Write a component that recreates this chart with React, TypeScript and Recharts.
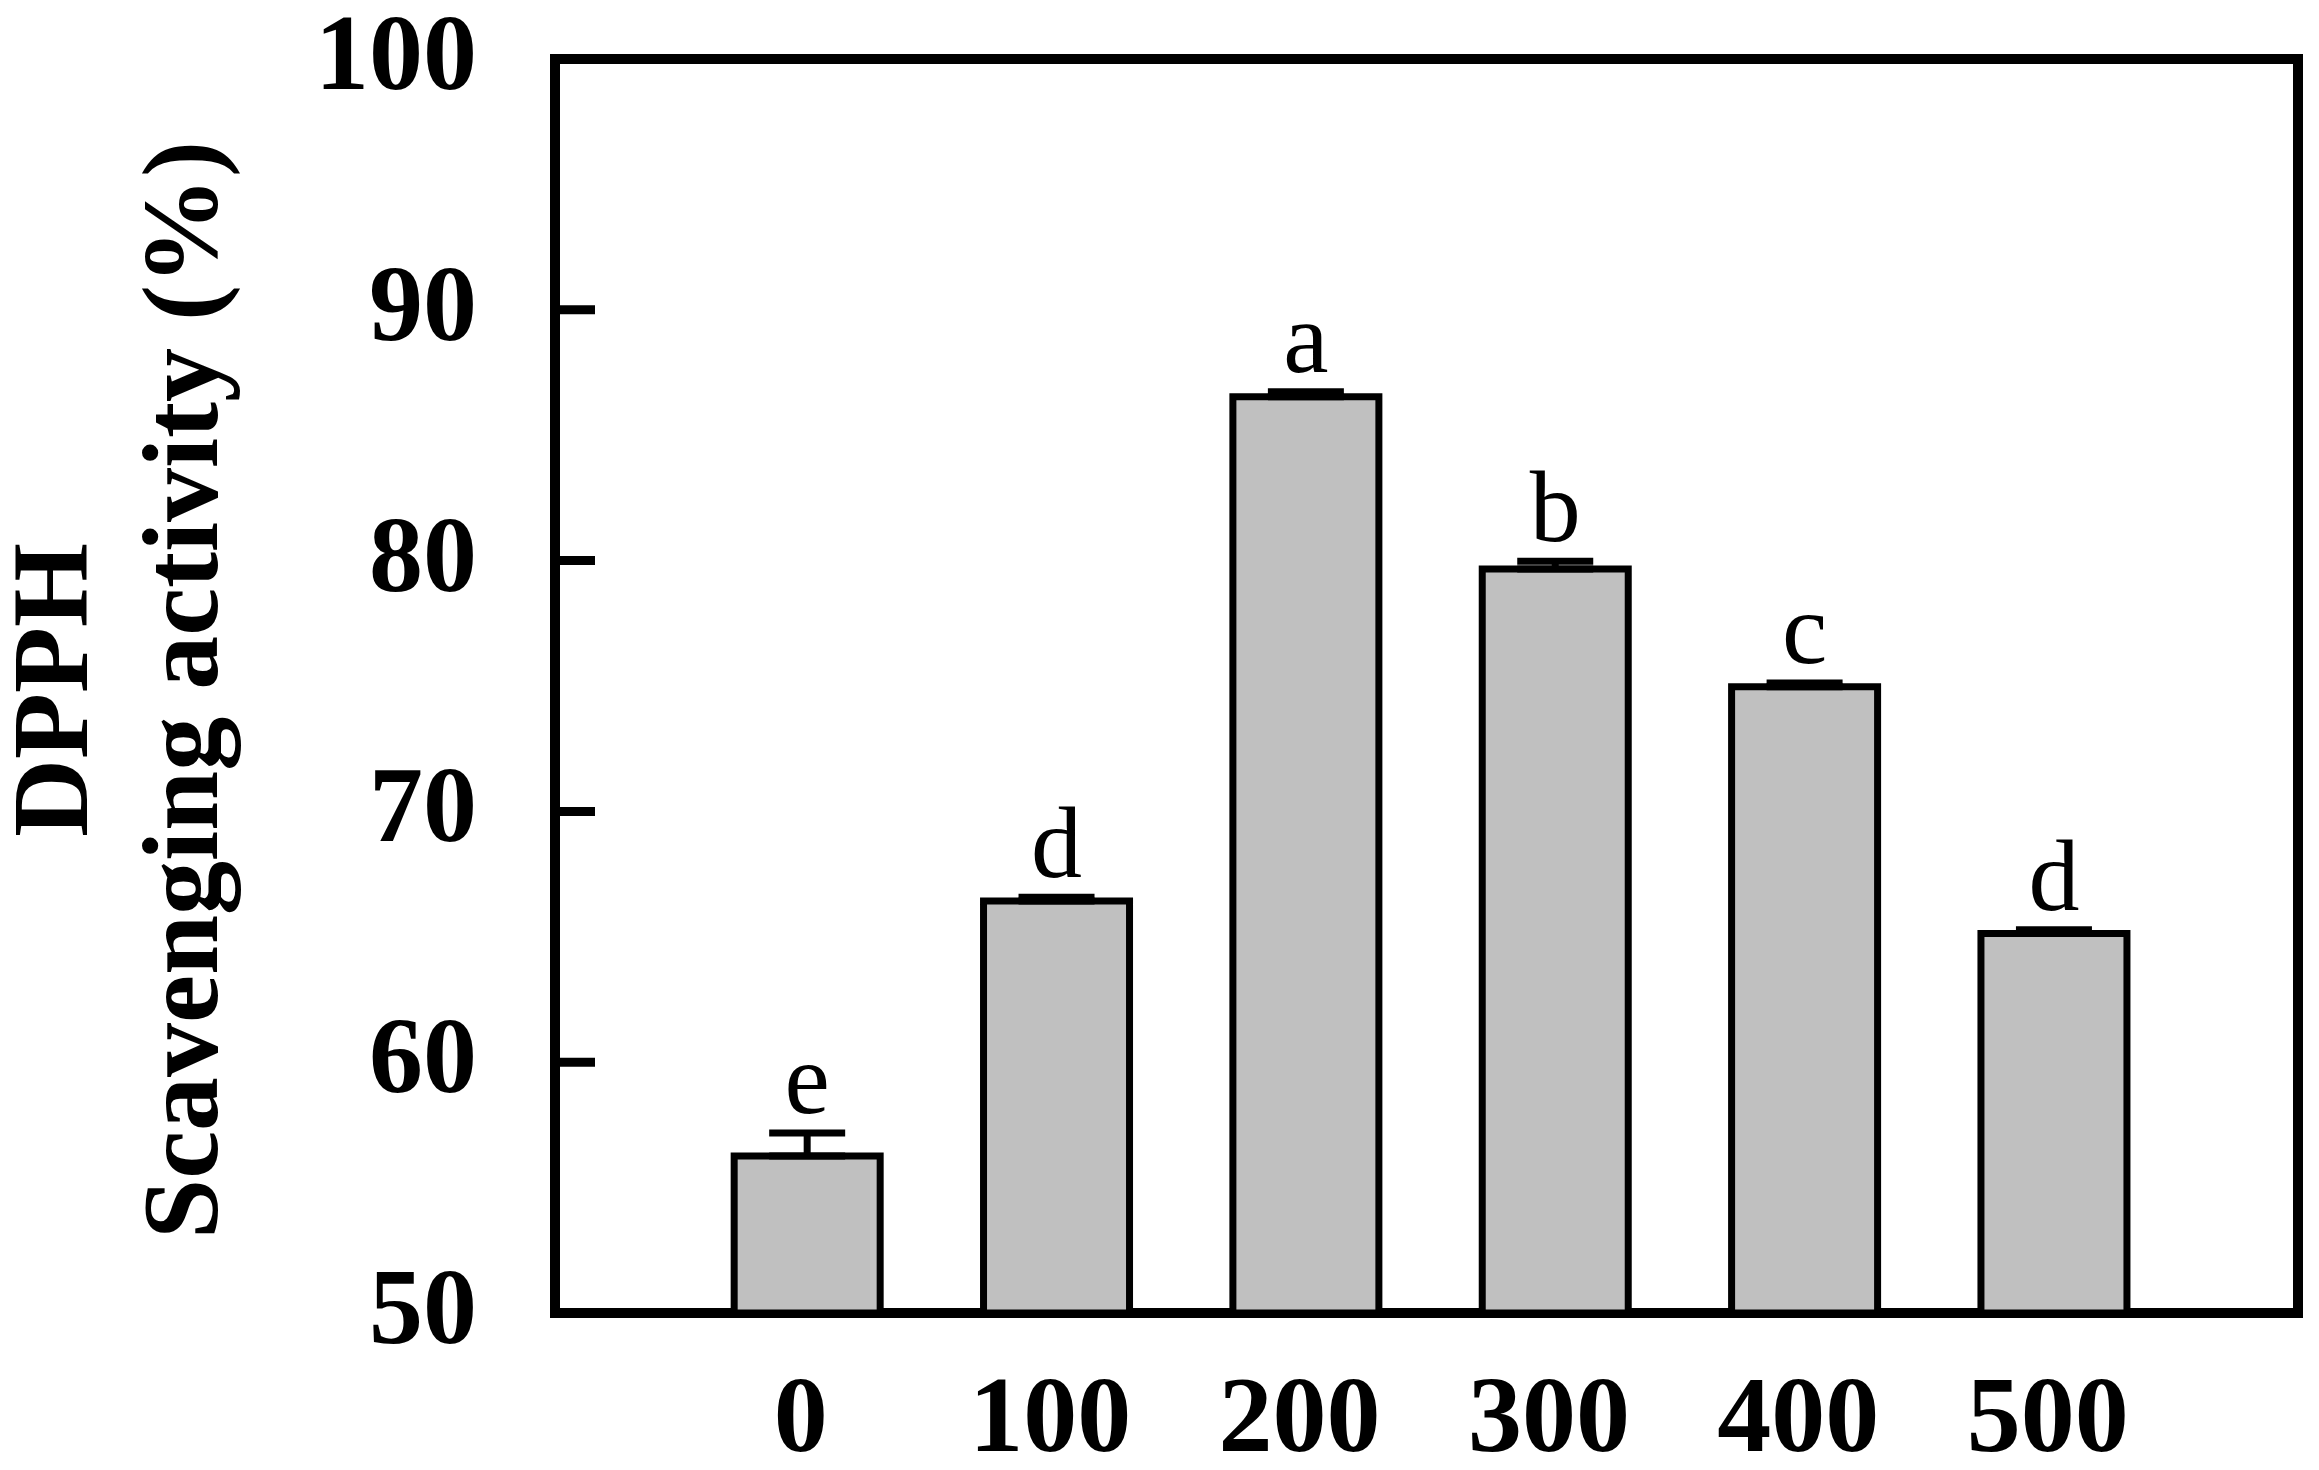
import React from "react";
import {
  BarChart,
  Bar,
  XAxis,
  YAxis,
  ErrorBar,
  LabelList,
  ReferenceArea,
} from "recharts";

// concentration groups and measured DPPH scavenging activity (%)
const concentrations = [0, 100, 200, 300, 400, 500];
const activity = [56.26, 66.43, 86.53, 79.67, 74.97, 65.13];
const errors = [0.92, 0.15, 0.2, 0.3, 0.15, 0.15];
const letters = ["e", "d", "a", "b", "c", "d"];
const yTicks = [50, 60, 70, 80, 90, 100];

const FONT = "'Liberation Serif', 'Times New Roman', serif";

const data = concentrations.map((c, i) => ({
  conc: c,
  value: activity[i],
  // only the upper whisker is drawn
  err: [0, errors[i]],
  letter: letters[i],
}));

const YTick = (props: any) => {
  const { x, y, payload } = props;
  return (
    <g>
      <line x1={x} x2={x + 40} y1={y} y2={y} stroke='#000' strokeWidth={9} />
      <text
        x={x - 78}
        y={y + 30}
        textAnchor='end'
        fontFamily={FONT}
        fontWeight='bold'
        fontSize={108}
        fill='#000'
      >
        {payload.value}
      </text>
    </g>
  );
};

const XTick = (props: any) => {
  const { x, y, payload } = props;
  return (
    <text
      x={x - 6}
      y={y + 138}
      textAnchor='middle'
      fontFamily={FONT}
      fontWeight='bold'
      fontSize={108}
      fill='#000'
    >
      {payload.value}
    </text>
  );
};

const LetterLabel = (props: any) => {
  const { x, y, width, height, index, value } = props;
  const perUnit = height / (activity[index] - 50);
  const capY = y - errors[index] * perUnit;
  return (
    <text
      x={x + width / 2}
      y={capY - 20}
      textAnchor='middle'
      fontFamily={FONT}
      fontSize={102}
      fill='#000'
    >
      {value}
    </text>
  );
};

export default function App() {
  return (
    <div style={{ width: 2319, height: 1470, background: "#fff" }}>
      <style>{`body{margin:0}`}</style>
      <BarChart
        width={2319}
        height={1470}
        data={data}
        margin={{ top: 59, right: 21, bottom: 0, left: 0 }}
      >
        <XAxis
          dataKey='conc'
          type='number'
          domain={[-101, 598]}
          ticks={concentrations}
          allowDataOverflow
          height={157}
          axisLine={false}
          tickLine={false}
          tickSize={0}
          tickMargin={0}
          tick={<XTick />}
          interval={0}
        />
        <YAxis
          type='number'
          domain={[50, 100]}
          ticks={yTicks}
          allowDataOverflow
          width={555}
          axisLine={false}
          tickLine={false}
          tickSize={0}
          tickMargin={0}
          tick={<YTick />}
          interval={0}
        />
        <Bar
          dataKey='value'
          barSize={146}
          fill='#c0c0c0'
          stroke='#000'
          strokeWidth={7}
          isAnimationActive={false}
        >
          <ErrorBar
            dataKey='err'
            direction='y'
            width={38}
            stroke='#000'
            strokeWidth={7}
            isAnimationActive={false}
          />
          <LabelList dataKey='letter' content={<LetterLabel />} />
        </Bar>
        <ReferenceArea
          x1={-101}
          x2={598}
          y1={50}
          y2={100}
          fill='none'
          fillOpacity={0}
          stroke='#000'
          strokeWidth={10}
          ifOverflow='visible'
        />
      </BarChart>
      <svg
        width={300}
        height={1470}
        style={{ position: "absolute", left: 0, top: 0 }}
      >
        <text
          transform='translate(87,690) rotate(-90)'
          textAnchor='middle'
          fontFamily={FONT}
          fontWeight='bold'
          fontSize={108}
          fill='#000'
        >
          DPPH
        </text>
        <text
          transform='translate(217,690) rotate(-90)'
          textAnchor='middle'
          fontFamily={FONT}
          fontWeight='bold'
          fontSize={108}
          fill='#000'
        >
          Scavenging activity (%)
        </text>
      </svg>
    </div>
  );
}
